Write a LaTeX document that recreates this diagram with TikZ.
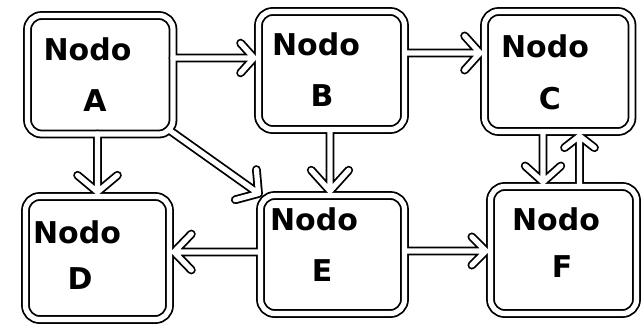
\documentclass[tikz,border=0pt]{standalone}
\usepackage{fontspec}
\setmainfont{DejaVu Sans}
\usetikzlibrary{calc}
\newcommand\arw[5]{\draw (#1) -- (#2) -- ++(#3+#5:#4) (#2) -- ++(#3-#5:#4);}
\newcommand\boxborders{\foreach \n in {A,B,C,D,E,F}{\draw[rounded corners=14pt] (\n.north west) rectangle (\n.south east);}}
\newcommand\network{%
  \boxborders
  \arw{s1}{t1}{180}{20}{48}
  \arw{s2}{t2}{180}{23}{48}
  \arw{s3}{t3}{-90}{26}{50}
  \arw{s4}{t4}{-145}{24}{50}
  \arw{s5}{t5}{-90}{28}{42}
  \arw{s6}{t6}{0}{25}{46}
  \arw{s7}{t7}{180}{20}{45}
  \arw{s8}{t8}{-90}{24}{48}
  \arw{s9}{t9}{90}{19}{52}
}
\tikzset{
  box/.style={shape=rectangle, inner sep=0pt, outer sep=0pt},
  lbl/.style={anchor=base, inner sep=0pt, font=\bfseries\fontsize{30}{36}\selectfont},
  blackpass/.style={black, line width=8.8pt, line cap=round, line join=round},
  whitepass/.style={white, line width=5.2pt, line cap=round, line join=round}
}
\begin{document}
\begin{tikzpicture}[x=1pt, y=-1pt]
\fill[white] (0,0) rectangle (643,327);
\useasboundingbox (0,0) rectangle (643,327);
\node[box, minimum width=145.5pt, minimum height=118.5pt] (A) at (100.25,74.75) {};
\node[box, minimum width=146pt, minimum height=118pt] (B) at (331.5,70.5) {};
\node[box, minimum width=147.5pt, minimum height=120pt] (C) at (558.25,71.5) {};
\node[box, minimum width=144pt, minimum height=123pt] (D) at (97.5,258) {};
\node[box, minimum width=144pt, minimum height=118pt] (E) at (332.5,254.5) {};
\node[box, minimum width=146pt, minimum height=127pt] (F) at (563.5,250) {};
\coordinate (s1) at (A.east |- 0,58);
\coordinate (t1) at ($(B.west |- 0,58)+(-4.5,0)$);
\coordinate (s2) at (B.east |- 0,53);
\coordinate (t2) at ($(C.west |- 0,53)+(-4.5,0)$);
\coordinate (s3) at (A.south -| 97.5,0);
\coordinate (t3) at ($(D.north -| 97.5,0)+(0,-4.5)$);
\coordinate (s4) at ($(A.south east)+(-4.4,-4.4)$);
\coordinate (t4) at ($(E.north west)+(-2,-2)$);
\coordinate (s5) at (B.south -| 330,0);
\coordinate (t5) at ($(E.north -| 330,0)+(0,-4.5)$);
\coordinate (s6) at (E.west |- 0,252);
\coordinate (t6) at ($(D.east |- 0,252)+(4.5,0)$);
\coordinate (s7) at (E.east |- 0,251);
\coordinate (t7) at ($(F.west |- 0,251)+(-4.5,0)$);
\coordinate (s8) at (C.south -| 543,0);
\coordinate (t8) at ($(F.north -| 543,0)+(0,-4.5)$);
\coordinate (s9) at (F.north -| 579.5,0);
\coordinate (t9) at ($(C.south -| 579.5,0)+(0,4.5)$);
\begin{scope}[blackpass]\network\end{scope}
\begin{scope}[whitepass]\network\end{scope}
\node[lbl] (A1) at (87.5,60) {Nodo};
\node[lbl] (A2) at (95,111) {A};
\node[lbl] (B1) at (316,55) {Nodo};
\node[lbl] (B2) at (322,106) {B};
\node[lbl] (C1) at (545,57) {Nodo};
\node[lbl] (C2) at (550,109) {C};
\node[lbl] (D1) at (77,243) {Nodo};
\node[lbl] (D2) at (80,289) {D};
\node[lbl] (E1) at (314,230) {Nodo};
\node[lbl] (E2) at (322,281) {E};
\node[lbl] (F1) at (556,230) {Nodo};
\node[lbl] (F2) at (562,277) {F};
\end{tikzpicture}
\end{document}
